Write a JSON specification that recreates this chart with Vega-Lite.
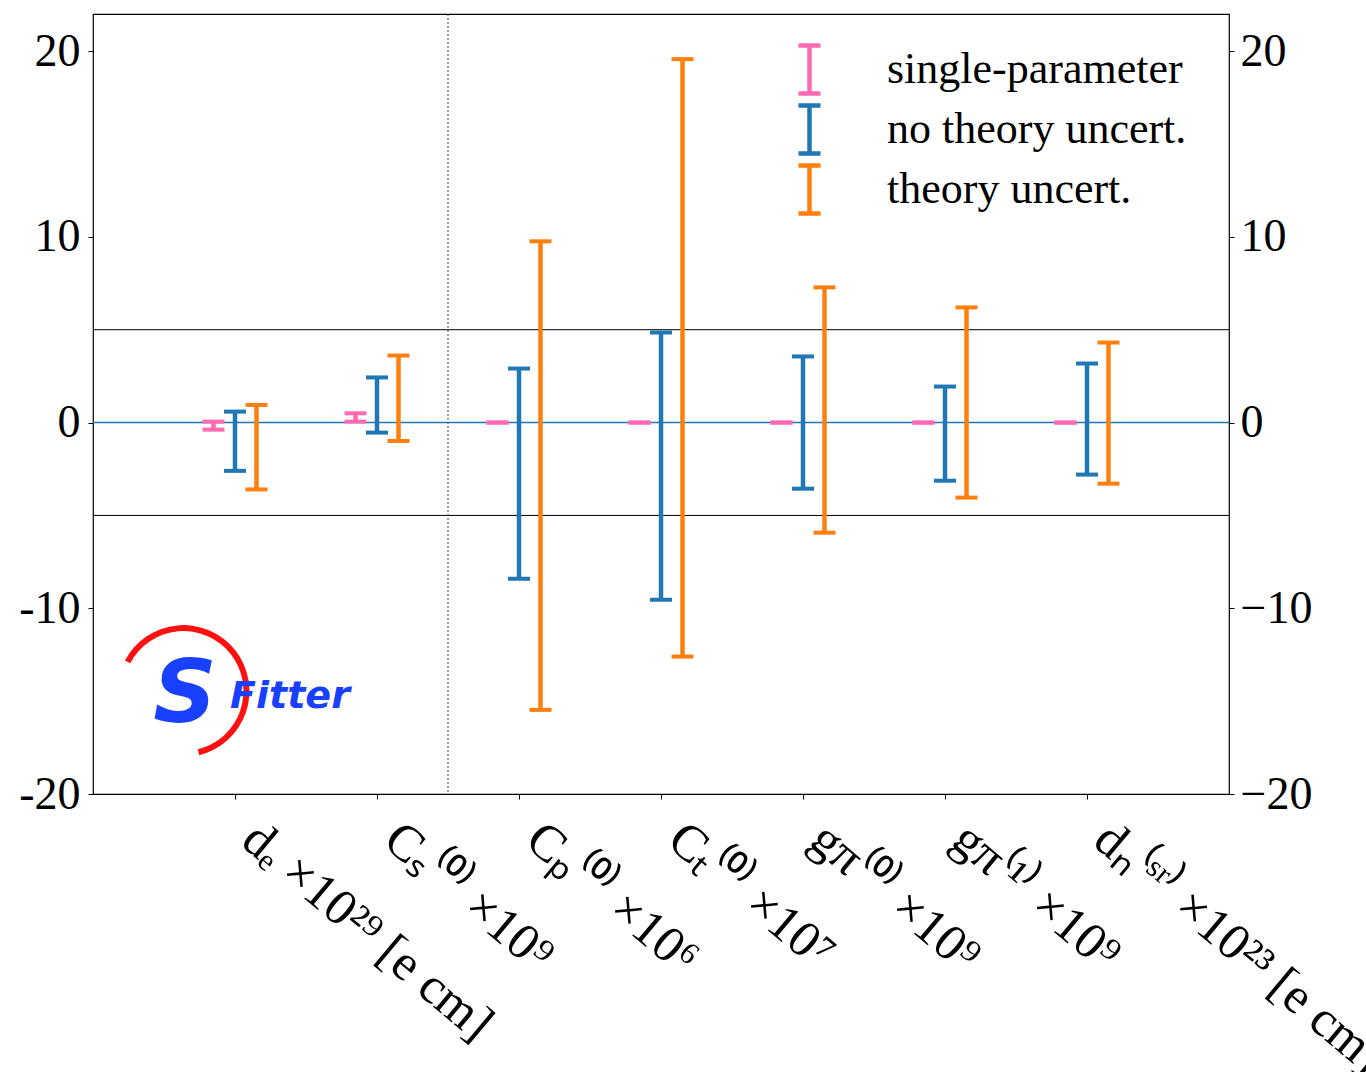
{
  "$schema": "https://vega.github.io/schema/vega-lite/v6.json",
  "width": 1136,
  "height": 780,
  "autosize": {"type": "none"},
  "padding": {"left": 93, "top": 14, "right": 137, "bottom": 278},
  "background": "white",
  "config": {
    "view": {"stroke": "black", "strokeWidth": 1.2},
    "font": "Liberation Serif",
    "axis": {"labelColor": "black", "tickColor": "black", "grid": false, "domain": false, "title": null}
  },
  "datasets": {
    "bars": [
      {"param": "dₑ ×10²⁹ [e cm]", "fit": "single-parameter", "lo": -0.38, "hi": 0.05},
      {"param": "dₑ ×10²⁹ [e cm]", "fit": "no theory uncert.", "lo": -2.6, "hi": 0.59},
      {"param": "dₑ ×10²⁹ [e cm]", "fit": "theory uncert.", "lo": -3.6, "hi": 0.95},
      {"param": "Cₛ⁽⁰⁾ ×10⁹", "fit": "single-parameter", "lo": 0.05, "hi": 0.5},
      {"param": "Cₛ⁽⁰⁾ ×10⁹", "fit": "no theory uncert.", "lo": -0.54, "hi": 2.43},
      {"param": "Cₛ⁽⁰⁾ ×10⁹", "fit": "theory uncert.", "lo": -0.99, "hi": 3.61},
      {"param": "Cₚ⁽⁰⁾ ×10⁶", "fit": "single-parameter", "lo": 0, "hi": 0},
      {"param": "Cₚ⁽⁰⁾ ×10⁶", "fit": "no theory uncert.", "lo": -8.41, "hi": 2.91},
      {"param": "Cₚ⁽⁰⁾ ×10⁶", "fit": "theory uncert.", "lo": -15.47, "hi": 9.76},
      {"param": "Cₜ⁽⁰⁾ ×10⁷", "fit": "single-parameter", "lo": 0, "hi": 0},
      {"param": "Cₜ⁽⁰⁾ ×10⁷", "fit": "no theory uncert.", "lo": -9.54, "hi": 4.85},
      {"param": "Cₜ⁽⁰⁾ ×10⁷", "fit": "theory uncert.", "lo": -12.6, "hi": 19.57},
      {"param": "gπ⁽⁰⁾ ×10⁹", "fit": "single-parameter", "lo": 0, "hi": 0},
      {"param": "gπ⁽⁰⁾ ×10⁹", "fit": "no theory uncert.", "lo": -3.56, "hi": 3.56},
      {"param": "gπ⁽⁰⁾ ×10⁹", "fit": "theory uncert.", "lo": -5.93, "hi": 7.28},
      {"param": "gπ⁽¹⁾ ×10⁹", "fit": "single-parameter", "lo": 0, "hi": 0},
      {"param": "gπ⁽¹⁾ ×10⁹", "fit": "no theory uncert.", "lo": -3.13, "hi": 1.94},
      {"param": "gπ⁽¹⁾ ×10⁹", "fit": "theory uncert.", "lo": -4.04, "hi": 6.2},
      {"param": "dₙ⁽ˢʳ⁾ ×10²³ [e cm]", "fit": "single-parameter", "lo": 0, "hi": 0},
      {"param": "dₙ⁽ˢʳ⁾ ×10²³ [e cm]", "fit": "no theory uncert.", "lo": -2.8, "hi": 3.18},
      {"param": "dₙ⁽ˢʳ⁾ ×10²³ [e cm]", "fit": "theory uncert.", "lo": -3.29, "hi": 4.31}
    ],
    "hlines": [{"y": 5}, {"y": -5}],
    "zero": [{"y": 0}],
    "divider": [{"param": "Cₚ⁽⁰⁾ ×10⁶"}],
    "logo": [{"lx": -0.352, "ly": -14.7, "t": "S"}],
    "logo2": [{"lx": 0.387, "ly": -14.8, "t": "Fitter"}],
    "swoosh": [{"lx": -0.363, "ly": -14.46}]
  },
  "resolve": {"scale": {"x": "independent"}},
  "layer": [
    {
      "resolve": {"axis": {"y": "independent"}},
      "layer": [
        {
          "data": {"name": "hlines"},
          "mark": {"type": "rule", "color": "black", "strokeWidth": 1},
          "encoding": {
            "y": {"field": "y", "type": "quantitative",
              "scale": {"domain": [-20, 22], "nice": false, "zero": false},
              "axis": {"orient": "left", "values": [-20, -10, 0, 10, 20], "labelExpr": "datum.value < 0 ? '-' + abs(datum.value) : '' + datum.value", "labelFont": "Liberation Serif", "labelFontSize": 46, "tickSize": 5, "labelPadding": 8}}
          }
        },
        {
          "data": {"name": "zero"},
          "mark": {"type": "rule", "color": "#1f77b4", "strokeWidth": 1.5},
          "encoding": {
            "y": {"field": "y", "type": "quantitative", "scale": {"domain": [-20, 22], "nice": false, "zero": false}, "axis": null}
          }
        },
        {
          "data": {"name": "divider"},
          "mark": {"type": "rule", "color": "#444444", "strokeWidth": 1, "strokeDash": [2, 2]},
          "encoding": {
            "x": {"field": "param", "type": "nominal", "bandPosition": 0,
              "scale": {"domain": ["dₑ ×10²⁹ [e cm]", "Cₛ⁽⁰⁾ ×10⁹", "Cₚ⁽⁰⁾ ×10⁶", "Cₜ⁽⁰⁾ ×10⁷", "gπ⁽⁰⁾ ×10⁹", "gπ⁽¹⁾ ×10⁹", "dₙ⁽ˢʳ⁾ ×10²³ [e cm]"], "paddingInner": 0, "paddingOuter": 0.5},
              "axis": {"orient": "bottom", "labelAngle": 40, "labelAlign": "left", "labelBaseline": "top", "labelFont": "Liberation Serif", "labelFontSize": 51, "labelOffset": 30, "labelPadding": 14, "tickSize": 5, "labelLimit": 0, "labelOverlap": false, "labelBound": false}}
          }
        },
        {
          "data": {"name": "bars"},
          "mark": {"type": "rule", "strokeWidth": 4.5, "opacity": 1},
          "encoding": {
            "x": {"field": "param", "type": "nominal",
              "scale": {"domain": ["dₑ ×10²⁹ [e cm]", "Cₛ⁽⁰⁾ ×10⁹", "Cₚ⁽⁰⁾ ×10⁶", "Cₜ⁽⁰⁾ ×10⁷", "gπ⁽⁰⁾ ×10⁹", "gπ⁽¹⁾ ×10⁹", "dₙ⁽ˢʳ⁾ ×10²³ [e cm]"], "paddingInner": 0, "paddingOuter": 0.5},
              "axis": {"orient": "bottom", "labelAngle": 40, "labelAlign": "left", "labelBaseline": "top", "labelFont": "Liberation Serif", "labelFontSize": 51, "labelOffset": 30, "labelPadding": 14, "tickSize": 5, "labelLimit": 0, "labelOverlap": false, "labelBound": false}},
            "xOffset": {"field": "fit", "type": "nominal", "scale": {"type": "point", "domain": ["single-parameter", "no theory uncert.", "theory uncert."], "range": [49.5, 92.5], "padding": 0}},
            "y": {"field": "lo", "type": "quantitative", "scale": {"domain": [-20, 22], "nice": false, "zero": false}, "axis": null},
            "y2": {"field": "hi"},
            "color": {"field": "fit", "type": "nominal",
              "scale": {"domain": ["single-parameter", "no theory uncert.", "theory uncert."], "range": ["#ff69b4", "#1f77b4", "#ff7f0e"]},
              "legend": {"orient": "none", "legendX": 690, "legendY": 29, "title": null, "padding": 0, "symbolType": "M-0.46,-1H0.46M0,-1V1M-0.46,1H0.46", "symbolSize": 2304, "symbolStrokeWidth": 4.5, "symbolOpacity": 1, "symbolFillColor": "transparent", "labelFont": "Liberation Serif", "labelFontSize": 44, "labelColor": "black", "labelOffset": 51, "rowPadding": -7, "labelLimit": 0}}
          }
        },
        {
          "data": {"name": "bars"},
          "mark": {"type": "tick", "orient": "horizontal", "size": 22, "thickness": 4, "opacity": 1},
          "encoding": {
            "x": {"field": "param", "type": "nominal",
              "scale": {"domain": ["dₑ ×10²⁹ [e cm]", "Cₛ⁽⁰⁾ ×10⁹", "Cₚ⁽⁰⁾ ×10⁶", "Cₜ⁽⁰⁾ ×10⁷", "gπ⁽⁰⁾ ×10⁹", "gπ⁽¹⁾ ×10⁹", "dₙ⁽ˢʳ⁾ ×10²³ [e cm]"], "paddingInner": 0, "paddingOuter": 0.5},
              "axis": {"orient": "bottom", "labelAngle": 40, "labelAlign": "left", "labelBaseline": "top", "labelFont": "Liberation Serif", "labelFontSize": 51, "labelOffset": 30, "labelPadding": 14, "tickSize": 5, "labelLimit": 0, "labelOverlap": false, "labelBound": false}},
            "xOffset": {"field": "fit", "type": "nominal", "scale": {"type": "point", "domain": ["single-parameter", "no theory uncert.", "theory uncert."], "range": [49.5, 92.5], "padding": 0}},
            "y": {"field": "lo", "type": "quantitative", "scale": {"domain": [-20, 22], "nice": false, "zero": false}, "axis": null},
            "color": {"field": "fit", "type": "nominal",
              "scale": {"domain": ["single-parameter", "no theory uncert.", "theory uncert."], "range": ["#ff69b4", "#1f77b4", "#ff7f0e"]},
              "legend": {"orient": "none", "legendX": 690, "legendY": 29, "title": null, "padding": 0, "symbolType": "M-0.46,-1H0.46M0,-1V1M-0.46,1H0.46", "symbolSize": 2304, "symbolStrokeWidth": 4.5, "symbolOpacity": 1, "symbolFillColor": "transparent", "labelFont": "Liberation Serif", "labelFontSize": 44, "labelColor": "black", "labelOffset": 51, "rowPadding": -7, "labelLimit": 0}}
          }
        },
        {
          "data": {"name": "bars"},
          "mark": {"type": "tick", "orient": "horizontal", "size": 22, "thickness": 4, "opacity": 1},
          "encoding": {
            "x": {"field": "param", "type": "nominal",
              "scale": {"domain": ["dₑ ×10²⁹ [e cm]", "Cₛ⁽⁰⁾ ×10⁹", "Cₚ⁽⁰⁾ ×10⁶", "Cₜ⁽⁰⁾ ×10⁷", "gπ⁽⁰⁾ ×10⁹", "gπ⁽¹⁾ ×10⁹", "dₙ⁽ˢʳ⁾ ×10²³ [e cm]"], "paddingInner": 0, "paddingOuter": 0.5},
              "axis": {"orient": "bottom", "labelAngle": 40, "labelAlign": "left", "labelBaseline": "top", "labelFont": "Liberation Serif", "labelFontSize": 51, "labelOffset": 30, "labelPadding": 14, "tickSize": 5, "labelLimit": 0, "labelOverlap": false, "labelBound": false}},
            "xOffset": {"field": "fit", "type": "nominal", "scale": {"type": "point", "domain": ["single-parameter", "no theory uncert.", "theory uncert."], "range": [49.5, 92.5], "padding": 0}},
            "y": {"field": "hi", "type": "quantitative", "scale": {"domain": [-20, 22], "nice": false, "zero": false}, "axis": null},
            "color": {"field": "fit", "type": "nominal",
              "scale": {"domain": ["single-parameter", "no theory uncert.", "theory uncert."], "range": ["#ff69b4", "#1f77b4", "#ff7f0e"]},
              "legend": {"orient": "none", "legendX": 690, "legendY": 29, "title": null, "padding": 0, "symbolType": "M-0.46,-1H0.46M0,-1V1M-0.46,1H0.46", "symbolSize": 2304, "symbolStrokeWidth": 4.5, "symbolOpacity": 1, "symbolFillColor": "transparent", "labelFont": "Liberation Serif", "labelFontSize": 44, "labelColor": "black", "labelOffset": 51, "rowPadding": -7, "labelLimit": 0}}
          }
        },
        {
          "data": {"name": "hlines"},
          "mark": {"type": "rule", "strokeOpacity": 0},
          "encoding": {
            "y": {"field": "y", "type": "quantitative",
              "scale": {"domain": [-20, 22], "nice": false, "zero": false},
              "axis": {"orient": "right", "values": [-20, -10, 0, 10, 20], "labelExpr": "datum.value < 0 ? '−' + abs(datum.value) : '' + datum.value", "labelFont": "Liberation Serif", "labelFontSize": 46, "tickSize": 5, "labelPadding": 6}}
          }
        }
      ]
    },
    {
      "layer": [
        {
          "data": {"name": "swoosh"},
          "mark": {"type": "arc", "color": "#ff1010", "radius": 66, "radius2": 60, "theta": -1.09, "theta2": 2.9},
          "encoding": {
            "x": {"field": "lx", "type": "quantitative", "scale": {"domain": [-1, 7], "nice": false, "zero": false}, "axis": null},
            "y": {"field": "ly", "type": "quantitative", "scale": {"domain": [-20, 22], "nice": false, "zero": false}, "axis": null}
          }
        },
        {
          "data": {"name": "logo"},
          "mark": {"type": "text", "font": "DejaVu Sans", "fontWeight": "bold", "fontStyle": "italic", "fontSize": 88, "color": "#1a40ff", "baseline": "middle", "align": "center"},
          "encoding": {
            "x": {"field": "lx", "type": "quantitative", "scale": {"domain": [-1, 7], "nice": false, "zero": false}, "axis": null},
            "y": {"field": "ly", "type": "quantitative", "scale": {"domain": [-20, 22], "nice": false, "zero": false}, "axis": null},
            "text": {"field": "t"}
          }
        },
        {
          "data": {"name": "logo2"},
          "mark": {"type": "text", "font": "DejaVu Sans", "fontWeight": "bold", "fontStyle": "italic", "fontSize": 38, "color": "#1a40ff", "baseline": "middle", "align": "center"},
          "encoding": {
            "x": {"field": "lx", "type": "quantitative", "scale": {"domain": [-1, 7], "nice": false, "zero": false}, "axis": null},
            "y": {"field": "ly", "type": "quantitative", "scale": {"domain": [-20, 22], "nice": false, "zero": false}, "axis": null},
            "text": {"field": "t"}
          }
        }
      ]
    }
  ]
}
